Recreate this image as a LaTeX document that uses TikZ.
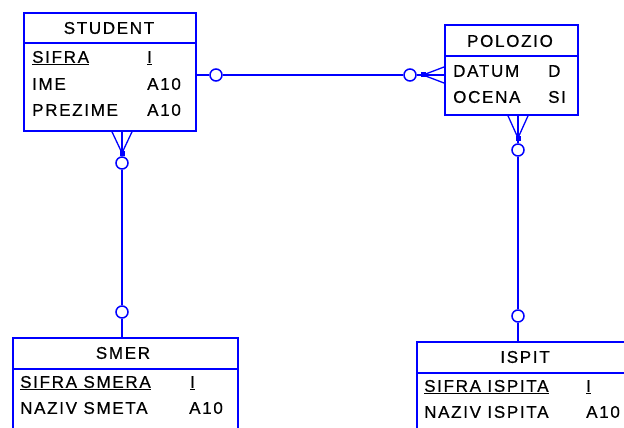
\documentclass[tikz,border=0pt]{standalone}
\usepackage{fontspec}
\setmainfont{Liberation Sans}[LetterSpace=10, FakeBold=0.6]
\usetikzlibrary{positioning, calc}
\definecolor{erblue}{RGB}{0,0,255}

\begin{document}
\begin{tikzpicture}[x=1pt, y=-1pt,
			entity/.style={rectangle, draw=erblue, line width=1.8pt, anchor=north west, inner sep=0pt},
			title/.style={font=\fontsize{17}{19}\selectfont, text=black, inner sep=0pt},
			attr/.style={anchor=west, font=\fontsize{17}{19}\selectfont, text=black, inner sep=0pt},
			link/.style={draw=erblue, line width=1.8pt},
			foot/.style={draw=erblue, line width=1.3pt},
			nul/.style={circle, draw=erblue, fill=white, line width=1.5pt, minimum size=12pt, inner sep=0pt},
			joint/.style={rectangle, fill=erblue, minimum size=5pt, inner sep=0pt}
			]
			\useasboundingbox (0,0) rectangle (624,428);

			\node[entity, minimum width=172pt, minimum height=118pt] (student) at (23,12) {};
			\node[entity, minimum width=133pt, minimum height=90pt] (polozio) at (444,24) {};
			\node[entity, minimum width=225pt, minimum height=100pt] (smer) at (12,337) {};
			\node[entity, minimum width=218pt, minimum height=100pt] (ispit) at (416,341) {};

			\draw[link] ($(student.north west)+(0,31)$) -- ($(student.north east)+(0,31)$);
			\draw[link] ($(polozio.north west)+(0,32)$) -- ($(polozio.north east)+(0,32)$);
			\draw[link] ($(smer.north west)+(0,32)$) -- ($(smer.north east)+(0,32)$);
			\draw[link] ($(ispit.north west)+(0,32)$) -- ($(ispit.north east)+(0,32)$);

			\node[title] (student-t) at (109,28) {STUDENT};
			\node[attr] (student-a1) at (32,58) {\underline{SIFRA}};
			\node[attr] (student-a2) at (32,84) {IME};
			\node[attr] (student-a3) at (32,110) {PREZIME};
			\node[attr] (student-d1) at (147,58) {\underline{I}};
			\node[attr] (student-d2) at (147,84) {A10};
			\node[attr] (student-d3) at (147,110) {A10};

			\node[title] (polozio-t) at (510,41) {POLOZIO};
			\node[attr] (polozio-a1) at (453,71) {DATUM};
			\node[attr] (polozio-a2) at (453,97) {OCENA};
			\node[attr] (polozio-d1) at (548,71) {D};
			\node[attr] (polozio-d2) at (548,97) {SI};

			\node[title] (smer-t) at (123,353) {SMER};
			\node[attr] (smer-a1) at (20,383) {\underline{SIFRA SMERA}};
			\node[attr] (smer-a2) at (20,408) {NAZIV SMETA};
			\node[attr] (smer-d1) at (190,383) {\underline{I}};
			\node[attr] (smer-d2) at (189,408) {A10};

			\node[title] (ispit-t) at (525,357) {ISPIT};
			\node[attr] (ispit-a1) at (424,387) {\underline{SIFRA ISPITA}};
			\node[attr] (ispit-a2) at (424,412) {NAZIV ISPITA};
			\node[attr] (ispit-d1) at (586,387) {\underline{I}};
			\node[attr] (ispit-d2) at (586,412) {A10};

			\node[nul] (sp-o1) at (216,75) {};
			\node[nul] (sp-o2) at (410,75) {};
			\node[joint] (sp-j) at (423,75) {};
			\draw[link] (student.east |- sp-o1) -- (sp-o1.west);
			\draw[link] (sp-o1.east) -- (sp-o2.west);
			\draw[link] (sp-o2.east) -- (sp-j.center);
			\foreach \d in {-8,0,8}
				\draw[foot] (sp-j.center) -- ($(polozio.west |- sp-j)+(0,\d)$);

			\node[joint] (ss-j) at (122,153) {};
			\node[nul] (ss-o1) at (122,163) {};
			\node[nul] (ss-o2) at (122,312) {};
			\foreach \d in {-10,0,10}
				\draw[foot] (ss-j.center) -- ($(student.south -| ss-j)+(\d,0)$);
			\draw[link] (ss-j.center) -- (ss-o1.north);
			\draw[link] (ss-o1.south) -- (ss-o2.north);
			\draw[link] (ss-o2.south) -- (smer.north -| ss-o2);

			\node[joint] (pi-j) at (518,138) {};
			\node[nul] (pi-o1) at (518,150) {};
			\node[nul] (pi-o2) at (518,316) {};
			\foreach \d in {-10,0,10}
				\draw[foot] (pi-j.center) -- ($(polozio.south -| pi-j)+(\d,0)$);
			\draw[link] (pi-j.center) -- (pi-o1.north);
			\draw[link] (pi-o1.south) -- (pi-o2.north);
			\draw[link] (pi-o2.south) -- (ispit.north -| pi-o2);
		\end{tikzpicture}
\end{document}
